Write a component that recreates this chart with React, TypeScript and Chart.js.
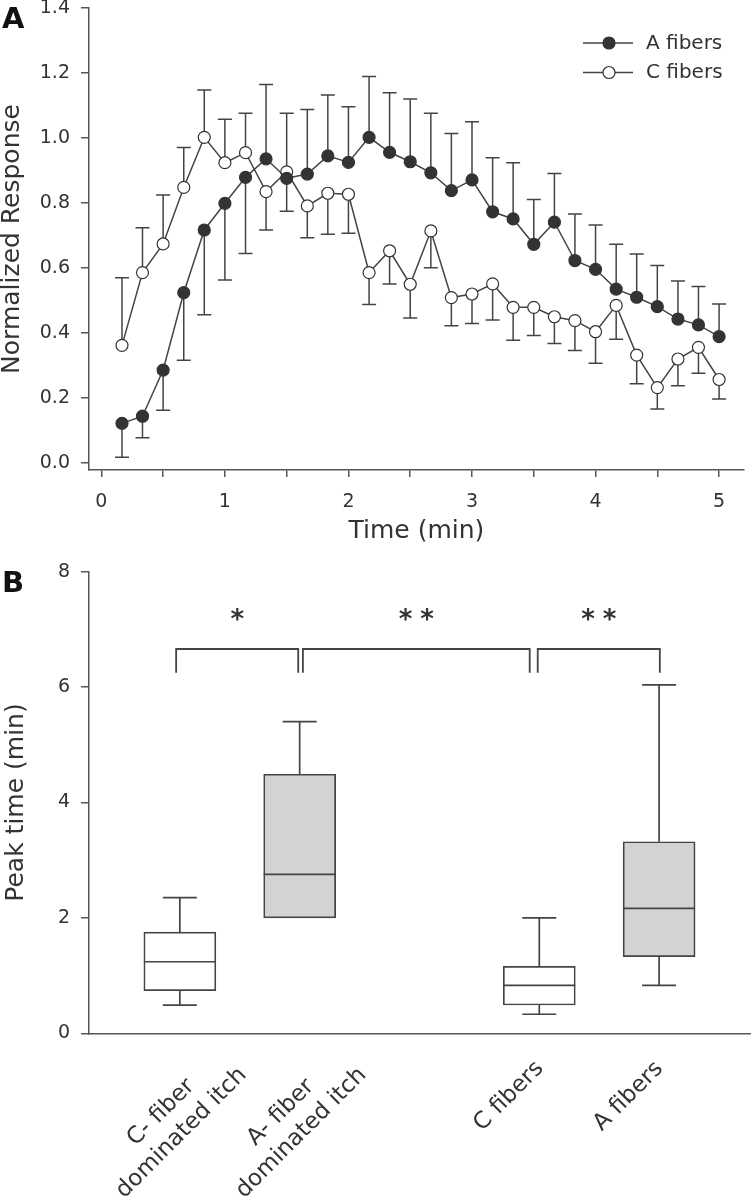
import React, { useEffect, useRef } from "react";
import { Chart, registerables } from "chart.js";

Chart.register(...registerables);

// ---------- Panel A data ----------
const timeMin = [
  0.167, 0.333, 0.5, 0.667, 0.833, 1.0, 1.167, 1.333, 1.5, 1.667,
  1.833, 2.0, 2.167, 2.333, 2.5, 2.667, 2.833, 3.0, 3.167, 3.333,
  3.5, 3.667, 3.833, 4.0, 4.167, 4.333, 4.5, 4.667, 4.833, 5.0,
];
const aFibers = [
  0.122, 0.144, 0.286, 0.524, 0.717, 0.799, 0.879, 0.936, 0.876, 0.889,
  0.945, 0.925, 1.002, 0.956, 0.927, 0.893, 0.838, 0.871, 0.773, 0.751,
  0.673, 0.741, 0.623, 0.596, 0.535, 0.51, 0.481, 0.443, 0.425, 0.389,
];
const aSem = [
  0.104, 0.066, 0.124, 0.208, 0.261, 0.236, 0.234, 0.229, 0.101, 0.199,
  0.187, 0.171, 0.187, 0.183, 0.193, 0.183, 0.176, 0.179, 0.166, 0.173,
  0.138, 0.15, 0.143, 0.136, 0.138, 0.133, 0.127, 0.117, 0.118, 0.1,
];
const cFibers = [
  0.362, 0.586, 0.674, 0.848, 1.002, 0.924, 0.955, 0.835, 0.896, 0.791,
  0.83, 0.827, 0.586, 0.653, 0.55, 0.714, 0.509, 0.52, 0.551, 0.479,
  0.479, 0.45, 0.438, 0.404, 0.485, 0.332, 0.232, 0.32, 0.356, 0.257,
];
const cSem = [
  0.208, 0.138, 0.151, 0.123, 0.146, 0.134, 0.121, 0.118, 0.18, 0.098,
  0.126, 0.12, 0.098, 0.102, 0.104, 0.113, 0.087, 0.091, 0.111, 0.101,
  0.087, 0.082, 0.092, 0.097, 0.104, 0.088, 0.066, 0.082, 0.08, 0.06,
];
const seriesNames = ["A fibers", "C fibers"];
const yTicksA = [0, 0.2, 0.4, 0.6, 0.8, 1.0, 1.2, 1.4];
const xTicksA = [0, 0.5, 1, 1.5, 2, 2.5, 3, 3.5, 4, 4.5, 5];

// ---------- Panel B data ----------
const groups = [
  ["C- fiber", "dominated itch"],
  ["A- fiber", "dominated itch"],
  ["C fibers"],
  ["A fibers"],
];
const groupPos = [1, 2, 4, 5];
const whiskerLow = [0.49, 2.0, 0.33, 0.83];
const q1 = [0.74, 2.0, 0.49, 1.33];
const median = [1.24, 2.755, 0.832, 2.166];
const q3 = [1.755, 4.49, 1.161, 3.32];
const whiskerHigh = [2.35, 5.4, 2.0, 6.04];
const boxFill = ["#ffffff", "#d3d3d3", "#ffffff", "#d3d3d3"];
const yTicksB = [0, 2, 4, 6, 8];
const bracketFrom = [0.969, 2.027, 3.987];
const bracketTo = [1.988, 3.92, 5.006];
const bracketTop = 6.66;
const bracketFoot = 6.25;
const bracketMarks = ["*", "**", "**"];
const markLevel = 7.21;

// ---------- styles ----------
const FONT = "'DejaVu Sans', sans-serif";
const INK = "#333333";
const AXIS = "#555555";
const LINE = "#444444";

const errorBarPlugin = {
  id: "errorBars",
  beforeDatasetsDraw(chart: any) {
    const { ctx } = chart;
    const x = chart.scales.x;
    const y = chart.scales.y;
    ctx.save();
    ctx.strokeStyle = LINE;
    ctx.lineWidth = 1.5;
    const sets: [number[], number[], number[]][] = [
      [aFibers, aSem, cFibers],
      [cFibers, cSem, aFibers],
    ];
    sets.forEach(([vals, sem, other]) => {
      vals.forEach((v, i) => {
        const dir = v >= other[i] ? 1 : -1;
        const end = v + dir * sem[i];
        const px = x.getPixelForValue(timeMin[i]);
        const p0 = y.getPixelForValue(v);
        const p1 = y.getPixelForValue(end);
        ctx.beginPath();
        ctx.moveTo(px, p0);
        ctx.lineTo(px, p1);
        ctx.moveTo(px - 7, p1);
        ctx.lineTo(px + 7, p1);
        ctx.stroke();
      });
    });
    ctx.restore();
  },
};

const legendPlugin = {
  id: "customLegend",
  afterDraw(chart: any) {
    const { ctx } = chart;
    ctx.save();
    chart.data.datasets.forEach((ds: any, i: number) => {
      const yy = 43 + i * 29.5;
      ctx.strokeStyle = LINE;
      ctx.lineWidth = 1.5;
      ctx.beginPath();
      ctx.moveTo(583, yy);
      ctx.lineTo(633, yy);
      ctx.stroke();
      ctx.beginPath();
      ctx.arc(609, yy, 6, 0, Math.PI * 2);
      ctx.fillStyle = ds.pointBackgroundColor;
      ctx.fill();
      ctx.lineWidth = 1.2;
      ctx.strokeStyle = ds.pointBorderColor;
      ctx.stroke();
      ctx.fillStyle = INK;
      ctx.font = `20px ${FONT}`;
      ctx.textAlign = "left";
      ctx.textBaseline = "middle";
      ctx.fillText(ds.label, 646, yy + 0.5);
    });
    ctx.restore();
  },
};

const panelLetter = (letter: string, x: number, y: number) => ({
  id: "panelLetter" + letter,
  afterDraw(chart: any) {
    const { ctx } = chart;
    ctx.save();
    ctx.fillStyle = "#111";
    ctx.font = `bold 29px ${FONT}`;
    ctx.textAlign = "left";
    ctx.textBaseline = "alphabetic";
    ctx.fillText(letter, x, y);
    ctx.restore();
  },
});

const boxPlotPlugin = {
  id: "boxExtras",
  afterDatasetsDraw(chart: any) {
    const { ctx, chartArea } = chart;
    const x = chart.scales.x;
    const y = chart.scales.y;
    const meta = chart.getDatasetMeta(0);
    ctx.save();
    ctx.strokeStyle = LINE;
    ctx.lineWidth = 1.7;
    groupPos.forEach((p, i) => {
      const px = x.getPixelForValue(p);
      const half = meta.data[i] ? meta.data[i].width / 2 : 36;
      const cap = 17;
      ctx.beginPath();
      // upper whisker
      if (whiskerHigh[i] > q3[i]) {
        const a = y.getPixelForValue(q3[i]);
        const b = y.getPixelForValue(whiskerHigh[i]);
        ctx.moveTo(px, a);
        ctx.lineTo(px, b);
        ctx.moveTo(px - cap, b);
        ctx.lineTo(px + cap, b);
      }
      if (whiskerLow[i] < q1[i]) {
        const a = y.getPixelForValue(q1[i]);
        const b = y.getPixelForValue(whiskerLow[i]);
        ctx.moveTo(px, a);
        ctx.lineTo(px, b);
        ctx.moveTo(px - cap, b);
        ctx.lineTo(px + cap, b);
      }
      const m = y.getPixelForValue(median[i]);
      ctx.moveTo(px - half, m);
      ctx.lineTo(px + half, m);
      ctx.stroke();
    });
    // significance brackets
    ctx.lineWidth = 1.8;
    bracketFrom.forEach((f, i) => {
      const x0 = x.getPixelForValue(f);
      const x1 = x.getPixelForValue(bracketTo[i]);
      const yt = y.getPixelForValue(bracketTop);
      const yf = y.getPixelForValue(bracketFoot);
      ctx.beginPath();
      ctx.moveTo(x0, yf);
      ctx.lineTo(x0, yt);
      ctx.lineTo(x1, yt);
      ctx.lineTo(x1, yf);
      ctx.stroke();
      const cx = (x0 + x1) / 2;
      const cy = y.getPixelForValue(markLevel);
      ctx.fillStyle = INK;
      ctx.font = `bold 26px ${FONT}`;
      ctx.textBaseline = "middle";
      ctx.textAlign = "left";
      const spacing = 8;
      (ctx as any).letterSpacing = `${spacing}px`;
      const w = ctx.measureText(bracketMarks[i]).width - spacing;
      ctx.fillText(bracketMarks[i], cx - w / 2, cy + 4);
      (ctx as any).letterSpacing = "0px";
    });
    // rotated category labels
    ctx.fillStyle = INK;
    ctx.font = `23px ${FONT}`;
    ctx.textAlign = "center";
    ctx.textBaseline = "middle";
    const axisY = chartArea.bottom;
    groups.forEach((lines, i) => {
      const px = x.getPixelForValue(groupPos[i]);
      const n = lines.length;
      const cx = px - 30.5 + (n - 1) * 22;
      const cy = axisY + 63 + (n - 1) * 26.5;
      ctx.save();
      ctx.translate(cx, cy);
      ctx.rotate(-Math.PI / 4);
      lines.forEach((t, j) => {
        ctx.fillText(t, 0, (j - (n - 1) / 2) * 29);
      });
      ctx.restore();
    });
    ctx.restore();
  },
};

export default function App() {
  const refA = useRef<HTMLCanvasElement>(null);
  const refB = useRef<HTMLCanvasElement>(null);

  useEffect(() => {
    const tickFont = { family: FONT, size: 19 };
    const titleFont = { family: FONT, size: 25, lineHeight: 1 };

    const chartA = new Chart(refA.current as HTMLCanvasElement, {
      type: "line",
      data: {
        datasets: [
          {
            label: seriesNames[0],
            data: timeMin.map((t, i) => ({ x: t, y: aFibers[i] })),
            borderColor: LINE,
            borderWidth: 1.5,
            pointRadius: 6,
            pointBackgroundColor: "#333333",
            pointBorderColor: "#333333",
            pointBorderWidth: 1.2,
            tension: 0,
            fill: false,
          },
          {
            label: seriesNames[1],
            data: timeMin.map((t, i) => ({ x: t, y: cFibers[i] })),
            borderColor: LINE,
            borderWidth: 1.5,
            pointRadius: 6,
            pointBackgroundColor: "#ffffff",
            pointBorderColor: "#333333",
            pointBorderWidth: 1.2,
            tension: 0,
            fill: false,
          },
        ],
      },
      options: {
        responsive: false,
        animation: false,
        events: [],
        layout: { padding: { left: 0, top: 8, right: 3, bottom: 0 } },
        plugins: { legend: { display: false }, tooltip: { enabled: false } },
        scales: {
          x: {
            type: "linear",
            min: -0.1,
            max: 5.2,
            afterBuildTicks: (s: any) => {
              s.ticks = xTicksA.map((v) => ({ value: v }));
            },
            afterFit: (s: any) => {
              s.height = 85;
              s.paddingLeft = 0;
              s.paddingRight = 0;
            },
            ticks: {
              callback: (v: any) => (Number.isInteger(Number(v)) ? String(v) : ""),
              autoSkip: false,
              maxRotation: 0,
              minRotation: 0,
              padding: 13.5,
              color: INK,
              font: tickFont,
            },
            grid: {
              display: true,
              drawOnChartArea: false,
              drawTicks: true,
              tickLength: 7,
              color: AXIS,
              lineWidth: 1.5,
            },
            border: { display: true, color: AXIS, width: 1.5 },
            title: {
              display: true,
              text: "Time (min)",
              color: INK,
              font: titleFont,
              padding: { top: 0, bottom: 11.5 },
            },
          },
          y: {
            type: "linear",
            min: -0.0215,
            max: 1.4,
            afterBuildTicks: (s: any) => {
              s.ticks = yTicksA.map((v) => ({ value: v }));
            },
            afterFit: (s: any) => {
              s.width = 89;
              s.paddingTop = 0;
              s.paddingBottom = 0;
            },
            ticks: {
              callback: (v: any) => Number(v).toFixed(1),
              padding: 11,
              color: INK,
              font: tickFont,
            },
            grid: {
              display: true,
              drawOnChartArea: false,
              drawTicks: true,
              tickLength: 8,
              color: AXIS,
              lineWidth: 1.5,
            },
            border: { display: true, color: AXIS, width: 1.5 },
            title: {
              display: true,
              text: "Normalized Response",
              color: INK,
              font: titleFont,
              padding: { top: 0, bottom: 0 },
            },
          },
        },
      },
      plugins: [errorBarPlugin, legendPlugin, panelLetter("A", 2, 28)],
    } as any);

    const chartB = new Chart(refB.current as HTMLCanvasElement, {
      type: "bar",
      data: {
        datasets: [
          {
            label: "Peak time",
            data: groupPos.map((p, i) => ({ x: p, y: [q1[i], q3[i]] })),
            backgroundColor: boxFill,
            borderColor: LINE,
            borderWidth: 1.7,
            borderSkipped: false,
            barThickness: 72,
            grouped: false,
          },
        ],
      },
      options: {
        responsive: false,
        animation: false,
        events: [],
        layout: { padding: { left: 0, top: 16.7, right: 0, bottom: 0 } },
        plugins: { legend: { display: false }, tooltip: { enabled: false } },
        scales: {
          x: {
            type: "linear",
            min: 0.2417,
            max: 5.767,
            offset: false,
            afterFit: (s: any) => {
              s.height = 165.7;
              s.paddingLeft = 0;
              s.paddingRight = 0;
            },
            ticks: { display: false },
            grid: { display: false, offset: false },
            border: { display: true, color: AXIS, width: 1.5 },
          },
          y: {
            type: "linear",
            min: 0,
            max: 8,
            afterBuildTicks: (s: any) => {
              s.ticks = yTicksB.map((v) => ({ value: v }));
            },
            afterFit: (s: any) => {
              s.width = 89;
              s.paddingTop = 0;
              s.paddingBottom = 0;
            },
            ticks: {
              callback: (v: any) => String(v),
              padding: 11,
              color: INK,
              font: tickFont,
            },
            grid: {
              display: true,
              drawOnChartArea: false,
              drawTicks: true,
              tickLength: 8,
              color: AXIS,
              lineWidth: 1.5,
            },
            border: { display: true, color: AXIS, width: 1.5 },
            title: {
              display: true,
              text: "Peak time (min)",
              color: INK,
              font: titleFont,
              padding: { top: 3.5, bottom: 0 },
            },
          },
        },
      },
      plugins: [boxPlotPlugin, panelLetter("B", 2, 37)],
    } as any);

    return () => {
      chartA.destroy();
      chartB.destroy();
    };
  }, []);

  return (
    <div style={{ position: "absolute", left: 0, top: 0, width: 751, height: 1199, background: "#fff" }}>
      <canvas ref={refA} width={751} height={555} style={{ position: "absolute", left: 0, top: 0 }} />
      <canvas ref={refB} width={751} height={644} style={{ position: "absolute", left: 0, top: 555 }} />
    </div>
  );
}
